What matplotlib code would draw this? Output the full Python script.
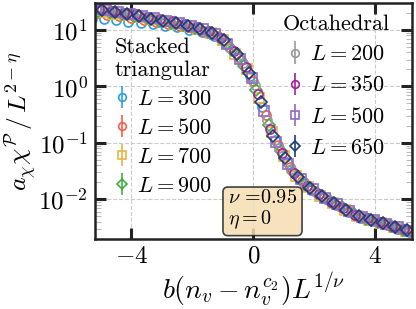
import matplotlib
matplotlib.use("Agg")
import matplotlib.pyplot as plt

plt.rcParams['font.family'] = 'serif'
plt.rcParams['font.serif'] = ['cmr10', 'DejaVu Serif']
plt.rcParams['mathtext.fontset'] = 'cm'
plt.rcParams['axes.formatter.use_mathtext'] = True
plt.rcParams['axes.unicode_minus'] = True

# stacked triangular
x_st300 = [-5.3, -4.9, -4.5, -4.1, -3.7, -3.3, -2.9, -2.5, -2.1, -1.7, -1.3, -0.9, -0.5, -0.1,
           0.3, 0.7, 1.1, 1.5, 1.9, 2.3, 2.7, 3.1, 3.5, 3.9, 4.3, 4.7, 5.1]
y_st300 = [15.8, 15.5, 14.8, 14.1, 13.4, 12.6, 11.8, 11.1, 10.2, 9.1, 7.9, 5.7, 3.3, 1.55,
           0.43, 0.115, 0.046, 0.023, 0.0148, 0.0106, 0.0081, 0.0060, 0.0047, 0.0041, 0.0036, 0.0030, 0.0026]
x_st500 = [-5.2, -4.8, -4.4, -4.0, -3.6, -3.2, -2.8, -2.4, -2.0, -1.6, -1.2, -0.8, -0.4, 0.0,
           0.4, 0.8, 1.2, 1.6, 2.0, 2.4, 2.8, 3.2, 3.6, 4.0, 4.4, 4.8, 5.2]
y_st500 = [19.5, 18.6, 17.5, 16.5, 15.2, 14.0, 12.9, 11.8, 10.7, 9.3, 7.7, 5.1, 2.9, 1.25,
           0.31, 0.092, 0.037, 0.021, 0.0139, 0.0100, 0.0077, 0.0059, 0.0047, 0.0041, 0.0035, 0.0030, 0.0026]
x_st700 = [-5.0, -4.6, -4.2, -3.8, -3.4, -3.0, -2.6, -2.2, -1.8, -1.4, -1.0, -0.6, -0.2,
           0.2, 0.6, 1.0, 1.4, 1.8, 2.2, 2.6, 3.0, 3.4, 3.8, 4.2, 4.6, 5.0]
y_st700 = [20.8, 19.4, 18.2, 16.9, 15.4, 14.2, 13.0, 11.8, 10.3, 8.8, 6.6, 3.8, 2.0,
           0.62, 0.156, 0.058, 0.026, 0.0165, 0.0117, 0.0087, 0.0066, 0.0051, 0.0043, 0.0038, 0.0033, 0.0028]
x_st900 = [-5.1, -4.7, -4.3, -3.9, -3.5, -3.1, -2.7, -2.3, -1.9, -1.5, -1.1, -0.7, -0.3,
           0.1, 0.5, 0.9, 1.3, 1.7, 2.1, 2.5, 2.9, 3.3, 3.7, 4.1, 4.5, 4.9]
y_st900 = [21.9, 20.5, 19.0, 17.6, 16.1, 14.7, 13.4, 12.1, 10.7, 9.2, 7.1, 4.4, 2.3,
           0.86, 0.21, 0.073, 0.031, 0.0185, 0.0130, 0.0093, 0.0073, 0.0055, 0.0045, 0.0040, 0.0034, 0.0029]

# octahedral
x_oc200 = [-5.15, -4.75, -4.35, -3.95, -3.55, -3.15, -2.75, -2.35, -1.95, -1.55, -1.15, -0.75, -0.35,
           0.05, 0.45, 0.85, 1.25, 1.65, 2.05, 2.45, 2.85, 3.25, 3.65, 4.05, 4.45, 4.85, 5.25]
y_oc200 = [23.2, 21.7, 20.1, 18.6, 17.1, 15.6, 14.2, 12.8, 11.3, 9.7, 7.6, 4.9, 2.6,
           1.05, 0.26, 0.083, 0.035, 0.020, 0.0137, 0.0099, 0.0076, 0.0058, 0.0047, 0.0042, 0.0036, 0.0031, 0.0027]
x_oc350 = [-5.05, -4.65, -4.25, -3.85, -3.45, -3.05, -2.65, -2.25, -1.85, -1.45, -1.05, -0.65, -0.25,
           0.15, 0.55, 0.95, 1.35, 1.75, 2.15, 2.55, 2.95, 3.35, 3.75, 4.15, 4.55, 4.95]
y_oc350 = [23.5, 22.0, 20.4, 18.9, 17.3, 15.8, 14.4, 13.0, 11.3, 9.6, 7.3, 4.3, 2.2,
           0.73, 0.18, 0.066, 0.029, 0.0175, 0.0123, 0.0091, 0.0071, 0.0054, 0.0046, 0.0040, 0.0034, 0.0030]
x_oc500 = [-5.25, -4.85, -4.45, -4.05, -3.65, -3.25, -2.85, -2.45, -2.05, -1.65, -1.25, -0.85, -0.45, -0.05,
           0.35, 0.75, 1.15, 1.55, 1.95, 2.35, 2.75, 3.15, 3.55, 3.95, 4.35, 4.75, 5.15]
y_oc500 = [24.5, 22.8, 21.0, 19.4, 17.8, 16.2, 14.7, 13.3, 11.9, 10.3, 8.4, 5.6, 3.1, 1.4,
           0.37, 0.104, 0.043, 0.023, 0.0150, 0.0107, 0.0082, 0.0062, 0.0049, 0.0043, 0.0037, 0.0032, 0.0028]
x_oc650 = [-4.95, -4.55, -4.15, -3.75, -3.35, -2.95, -2.55, -2.15, -1.75, -1.35, -0.95, -0.55, -0.15,
           0.25, 0.65, 1.05, 1.45, 1.85, 2.25, 2.65, 3.05, 3.45, 3.85, 4.25, 4.65, 5.05]
y_oc650 = [22.2, 20.6, 19.1, 17.5, 16.0, 14.6, 13.3, 12.0, 10.5, 8.9, 6.6, 3.7, 1.75,
           0.53, 0.135, 0.054, 0.025, 0.016, 0.0115, 0.0086, 0.0066, 0.0051, 0.0044, 0.0038, 0.0033, 0.0029]

stacked = [
    ('$L=300$', x_st300, y_st300, '#2a9fdf', 'o'),
    ('$L=500$', x_st500, y_st500, '#f5604c', 'o'),
    ('$L=700$', x_st700, y_st700, '#e9b443', 's'),
    ('$L=900$', x_st900, y_st900, '#3fae45', 'D'),
]
octa = [
    ('$L=200$', x_oc200, y_oc200, '#9a9a9a', 'o'),
    ('$L=350$', x_oc350, y_oc350, '#a0239a', 'o'),
    ('$L=500$', x_oc500, y_oc500, '#8c6cc4', 's'),
    ('$L=650$', x_oc650, y_oc650, '#1e3c78', 'D'),
]

fig = plt.figure(figsize=(4.16, 3.09), dpi=100)
ax = fig.add_axes([0.228, 0.227, 0.762, 0.763])

def draw(group):
    handles = []
    for label, xs, ys, c, m in group:
        ms = 6.5 if m != 'D' else 5.8
        ax.plot(xs, ys, linestyle='none', marker=m, ms=ms, mfc='none', mec=c, mew=1.2)
        h = ax.errorbar([], [], yerr=[], linestyle='none', marker=m, ms=ms - 1,
                        mfc='none', mec=c, mew=1.2, ecolor=c, elinewidth=1.2, label=label)
        handles.append(h)
    return handles

h_st = draw(stacked)
h_oc = draw(octa)

ax.set_yscale('log')
ax.set_xlim(-5.2, 5.2)
ax.set_ylim(2e-3, 30)
ax.set_xticks([-4, 0, 4])
ax.set_yticks([1e-2, 1e-1, 1e0, 1e1])
ax.grid(True, which='major', linestyle='--', color='#cccccc', linewidth=0.8)

for s in ax.spines.values():
    s.set_linewidth(1.8)
    s.set_color('#222222')
ax.tick_params(which='major', direction='in', length=8, width=2.2, color='#222222',
               top=True, right=True, labelsize=18, pad=5)
ax.tick_params(which='minor', direction='in', length=4, width=0.8, color='#bbbbbb',
               top=True, right=True)
ax.tick_params(axis='x', which='minor', bottom=False, top=False)

ax.set_xlabel(r'$b(n_v - n_v^{c_2})L^{1/\nu}$', fontsize=20, labelpad=2)
ax.set_ylabel(r'$a_\chi\chi^{\mathcal{P}}\,/\,L^{2-\eta}$', fontsize=18.5)
ax.yaxis.set_label_coords(-0.175, 0.5)

leg1 = ax.legend(handles=h_st, title='Stacked\ntriangular', loc='upper left',
                 bbox_to_anchor=(0.02, 0.91), frameon=False, fontsize=16, title_fontsize=16,
                 handlelength=0.7, handletextpad=0.3, labelspacing=0.42, borderpad=0.2,
                 borderaxespad=0.4)
leg1._legend_box.align = 'left'
ax.add_artist(leg1)
leg2 = ax.legend(handles=h_oc, title='Octahedral', loc='upper right',
                 bbox_to_anchor=(0.965, 1.0), frameon=False, fontsize=16, title_fontsize=16,
                 handlelength=0.7, handletextpad=0.3, labelspacing=0.5, borderpad=0.1,
                 borderaxespad=0.4)

ax.text(0.42, 0.035, '$\\nu$ =0.95\n$\\eta=0$', transform=ax.transAxes, fontsize=14.5,
        va='bottom', ha='left', linespacing=1.05,
        bbox=dict(boxstyle='round,pad=0.25', facecolor='#f5deb3', edgecolor='#222222',
                  alpha=0.85, linewidth=1.2))

fig.savefig('out.png', dpi=100)
